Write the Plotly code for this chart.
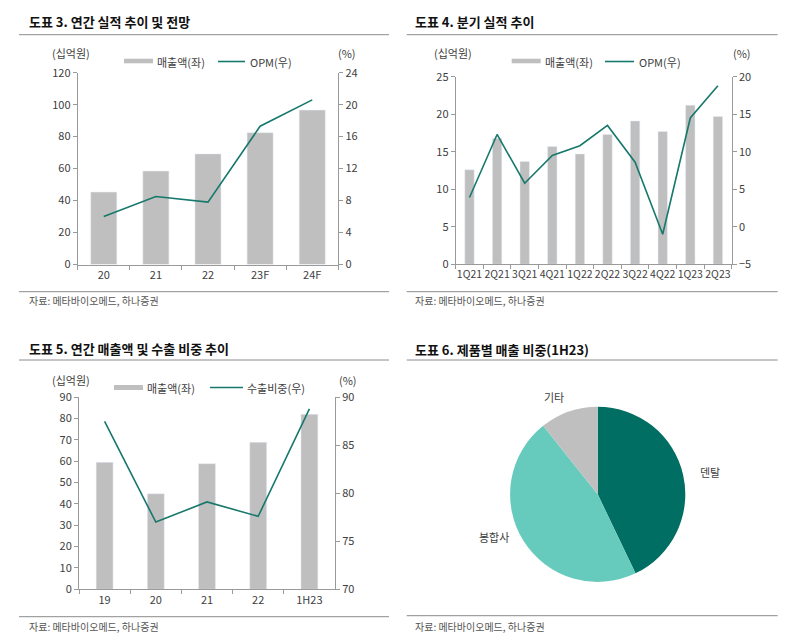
import plotly.graph_objects as go

# ---------------- data ----------------
annual_cats = ["20", "21", "22", "23F", "24F"]
annual_sales = [45.3, 58.5, 69.2, 82.5, 96.6]
annual_opm = [6.0, 8.5, 7.8, 17.3, 20.6]

quarter_cats = ["1Q21", "2Q21", "3Q21", "4Q21", "1Q22", "2Q22", "3Q22", "4Q22", "1Q23", "2Q23"]
quarter_sales = [12.6, 16.8, 13.7, 15.7, 14.7, 17.3, 19.1, 17.7, 21.2, 19.7]
quarter_opm = [3.9, 12.3, 5.8, 9.5, 10.8, 13.5, 8.6, -1.0, 14.5, 18.8]

export_cats = ["19", "20", "21", "22", "1H23"]
export_sales = [59.5, 44.8, 58.9, 68.9, 82.0]
export_share = [87.5, 77.0, 79.1, 77.6, 88.8]

pie_labels = ["덴탈", "봉합사", "기타"]
pie_values = [42.9, 46.4, 10.7]

# page body has an 8px margin; the figure is sized to fit inside the window
OFF = 8
W, H = 790 - 2 * OFF, 641 - 2 * OFF
FONT = "Noto Sans CJK KR"
BAR_C = "#BFBFBF"
LINE_C = "#17786C"
AX_C = "#9A9A9A"
TXT_C = "#404040"


def px(x):
    return (x - OFF) / W


def py(y):
    return 1 - (y - OFF) / H


fig = go.Figure()

# Panel 1
fig.add_trace(go.Bar(x=annual_cats, y=annual_sales, marker_color=BAR_C, width=0.5,
                     xaxis="x", yaxis="y", hoverinfo="skip"))
fig.add_trace(go.Scatter(x=annual_cats, y=annual_opm, mode="lines", line=dict(color=LINE_C, width=1.6),
                         xaxis="x", yaxis="y2", hoverinfo="skip"))
# Panel 2
fig.add_trace(go.Bar(x=quarter_cats, y=quarter_sales, marker_color=BAR_C, width=0.34,
                     xaxis="x2", yaxis="y3", hoverinfo="skip"))
fig.add_trace(go.Scatter(x=quarter_cats, y=quarter_opm, mode="lines", line=dict(color=LINE_C, width=1.6),
                         xaxis="x2", yaxis="y4", hoverinfo="skip"))
# Panel 3
fig.add_trace(go.Bar(x=export_cats, y=export_sales, marker_color=BAR_C, width=0.33,
                     xaxis="x3", yaxis="y5", hoverinfo="skip"))
fig.add_trace(go.Scatter(x=export_cats, y=export_share, mode="lines", line=dict(color=LINE_C, width=1.6),
                         xaxis="x3", yaxis="y6", hoverinfo="skip"))
# Panel 4 pie
cx, cy, r = 597.7, 494.3, 87.6
fig.add_trace(go.Pie(labels=pie_labels, values=pie_values, sort=False, direction="clockwise",
                     rotation=0, textinfo="none", hoverinfo="skip",
                     marker=dict(colors=["#006E62", "#66CABD", "#BFBFBF"], line=dict(width=0)),
                     domain=dict(x=[px(cx - r), px(cx + r)], y=[py(cy + r), py(cy - r)])))

tickfont = dict(family=FONT, size=11, color=TXT_C)


def xax(x0, x1, anchor, n, size=11):
    return dict(domain=[px(x0), px(x1)], anchor=anchor, type="category", range=[-0.5, n - 0.5],
                showline=True, linecolor=AX_C, linewidth=1, ticks="outside", tickson="boundaries",
                ticklen=4, tickcolor=AX_C, showgrid=False, zeroline=False,
                tickfont=dict(family=FONT, size=size, color=TXT_C), tickangle=0,
                automargin=False, fixedrange=True)


def yax(y0, y1, anchor, rng, dtick, side="left", overlaying=None):
    d = dict(domain=[py(y0), py(y1)], anchor=anchor, range=rng, dtick=dtick, side=side,
             showline=True, linecolor=AX_C, linewidth=1, ticks="outside", ticklen=4, tickcolor=AX_C,
             showgrid=False, zeroline=False, tickfont=tickfont, automargin=False, fixedrange=True)
    if overlaying:
        d["overlaying"] = overlaying
    return d


fig.update_layout(
    xaxis=xax(77.7, 338.3, "y", 5),
    yaxis=yax(264.5, 72.7, "x", [0, 120], 20),
    yaxis2=yax(264.5, 72.7, "x", [0, 24], 4, side="right", overlaying="y"),
    xaxis2=xax(455.7, 731.7, "y3", 10, size=10.5),
    yaxis3=yax(264.3, 76.7, "x2", [0, 25], 5),
    yaxis4=yax(264.3, 76.7, "x2", [-5, 20], 5, side="right", overlaying="y3"),
    xaxis3=xax(79, 335, "y5", 5),
    yaxis5=yax(589.3, 397.3, "x3", [0, 90], 10),
    yaxis6=yax(589.3, 397.3, "x3", [70, 90], 5, side="right", overlaying="y5"),
    width=W, height=H,
    margin=dict(l=0, r=0, t=0, b=0, pad=0),
    paper_bgcolor="white", plot_bgcolor="white",
    showlegend=False,
    font=dict(family=FONT, color=TXT_C),
)

shapes = []
annots = []


def text(x, y, s, size=11, anchor="left", bold=False, color=TXT_C):
    annots.append(dict(x=px(x), y=py(y), xref="paper", yref="paper", text=("<b>%s</b>" % s if bold else s),
                       showarrow=False, xanchor=anchor, yanchor="middle",
                       font=dict(family=FONT, size=size, color=color)))


def hline(x0, x1, y, color="#8C8C8C", width=1):
    shapes.append(dict(type="line", xref="paper", yref="paper", x0=px(x0), x1=px(x1), y0=py(y), y1=py(y),
                       line=dict(color=color, width=width)))


def rect(x0, x1, y0, y1, color):
    shapes.append(dict(type="rect", xref="paper", yref="paper", x0=px(x0), x1=px(x1), y0=py(y1), y1=py(y0),
                       fillcolor=color, line=dict(width=0)))


# Titles, separators, sources
text(26.7, 22, "도표 3. 연간 실적 추이 및 전망", size=13, bold=True, color="#111")
text(413, 22, "도표 4. 분기 실적 추이", size=13, bold=True, color="#111")
text(26.7, 348, "도표 5. 연간 매출액 및 수출 비중 추이", size=13, bold=True, color="#111")
text(413, 349, "도표 6. 제품별 매출 비중(1H23)", size=13, bold=True, color="#111")
hline(19, 389, 34.7)
hline(406.7, 777.7, 34.7)
hline(19, 389, 360)
hline(406.7, 777.7, 360)
hline(19, 389, 291.7)
hline(406.7, 777.7, 291.7)
hline(19, 389, 616.7)
hline(406.7, 777.7, 615.7)
for (x, y) in [(26.7, 300), (413, 300), (26.7, 626), (413, 626)]:
    text(x, y, "자료: 메타바이오메드, 하나증권", size=10, color="#555")

# Units
text(71, 53.3, "(십억원)", size=11, anchor="center")
text(347, 53, "(%)", size=11, anchor="center")
text(453, 53, "(십억원)", size=11, anchor="center")
text(742, 53, "(%)", size=11, anchor="center")
text(71, 380, "(십억원)", size=11, anchor="center")
text(348, 380, "(%)", size=11, anchor="center")

# Legends
rect(124, 153, 58.7, 63.3, BAR_C)
text(155, 61.5, "매출액(좌)", size=11)
hline(218, 245, 61.5, color=LINE_C, width=1.6)
text(248, 61.5, "OPM(우)", size=11)

rect(511.7, 540.7, 58.7, 63.3, BAR_C)
text(543, 61.5, "매출액(좌)", size=11)
hline(605, 634, 61.5, color=LINE_C, width=1.6)
text(637, 61.5, "OPM(우)", size=11)

rect(114, 143, 385, 390, BAR_C)
text(145, 387.5, "매출액(좌)", size=11)
hline(210, 243, 387.5, color=LINE_C, width=1.6)
text(245, 387.5, "수출비중(우)", size=11)

# Pie labels
text(710, 471.7, "덴탈", size=11, anchor="center")
text(494, 537, "봉합사", size=11, anchor="center")
text(554, 396.7, "기타", size=11, anchor="center")

fig.update_layout(shapes=shapes, annotations=annots)
fig.write_html("out.html")
